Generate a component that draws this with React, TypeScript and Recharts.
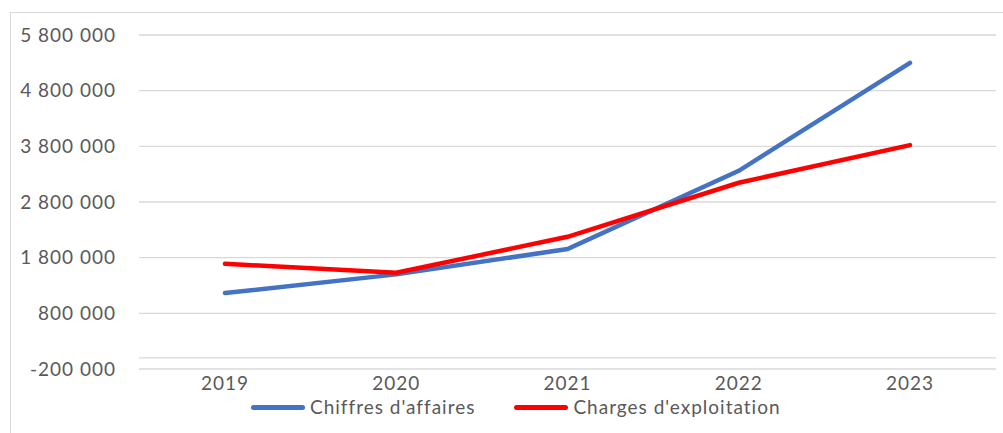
import React from 'react'
import {
  LineChart,
  Line,
  XAxis,
  YAxis,
  CartesianGrid,
  ReferenceLine,
} from 'recharts'

const years = ['2019', '2020', '2021', '2022', '2023']
const chiffresAffaires = [1164000, 1500000, 1954000, 3360000, 5300000]
const chargesExploitation = [1690000, 1529000, 2175000, 3145000, 3822000]
const yTicks = [-200000, 800000, 1800000, 2800000, 3800000, 4800000, 5800000]

const series = [
  { key: 'ca', name: "Chiffres d'affaires", color: '#4472C4' },
  { key: 'charges', name: "Charges d'exploitation", color: '#FF0000' },
]

const data = years.map((year, i) => ({
  year,
  ca: chiffresAffaires[i],
  charges: chargesExploitation[i],
}))

const FONT = 'Lato, "Open Sans", sans-serif'
const TEXT = '#595959'

// "5 800 000" style, with a plain space as thousands separator
const fmt = (v: number) => {
  const s = Math.abs(v).toString().replace(/\B(?=(\d{3})+(?!\d))/g, ' ')
  return v < 0 ? '-' + s : s
}

export default function App() {
  return (
    <div style={{ position: 'absolute', left: 0, top: 0, width: 1003, height: 433, background: '#fff', overflow: 'hidden' }}>
      <div
        style={{
          position: 'absolute',
          left: 10,
          top: 12,
          width: 1100,
          height: 500,
          border: '1.5px solid #d9d9d9',
          boxSizing: 'border-box',
        }}
      />
      <div style={{ position: 'absolute', left: 0, top: 0 }}>
        <LineChart width={1003} height={433} data={data} margin={{ top: 35, right: 7, bottom: 0, left: 0 }}>
          <CartesianGrid vertical={false} stroke="#d9d9d9" strokeWidth={1.3} />
          <XAxis
            dataKey="year"
            height={64}
            axisLine={false}
            tickLine={false}
            padding={{ left: 86, right: 86 }}
            tick={{ fill: TEXT, fontSize: 19, fontFamily: FONT, letterSpacing: 1 }}
          />
          <YAxis
            width={139}
            domain={[-200000, 5800000]}
            ticks={yTicks}
            interval={0}
            axisLine={false}
            tickLine={false}
            tickSize={0}
            tickMargin={23}
            tickFormatter={fmt}
            tick={{ fill: TEXT, fontSize: 19, fontFamily: FONT, letterSpacing: 1 }}
          />
          <ReferenceLine y={0} stroke="#d9d9d9" strokeWidth={1.3} />
          {series.map((s) => (
            <Line
              key={s.key}
              type="linear"
              dataKey={s.key}
              name={s.name}
              stroke={s.color}
              strokeWidth={4.5}
              strokeLinecap="round"
              dot={false}
              activeDot={false}
              isAnimationActive={false}
            />
          ))}
        </LineChart>
      </div>
      <div
        style={{
          position: 'absolute',
          left: 251,
          top: 395,
          display: 'flex',
          alignItems: 'center',
          fontFamily: FONT,
          fontSize: 19,
          color: TEXT,
          letterSpacing: 1,
          lineHeight: '24px',
          whiteSpace: 'nowrap',
        }}
      >
        {series.map((s, i) => (
          <div key={s.key} style={{ display: 'flex', alignItems: 'center', marginLeft: i === 0 ? 0 : 39 }}>
            <span style={{ display: 'inline-block', width: 54, height: 5, borderRadius: 3, background: s.color, marginRight: 5 }} />
            <span>{s.name}</span>
          </div>
        ))}
      </div>
    </div>
  )
}
